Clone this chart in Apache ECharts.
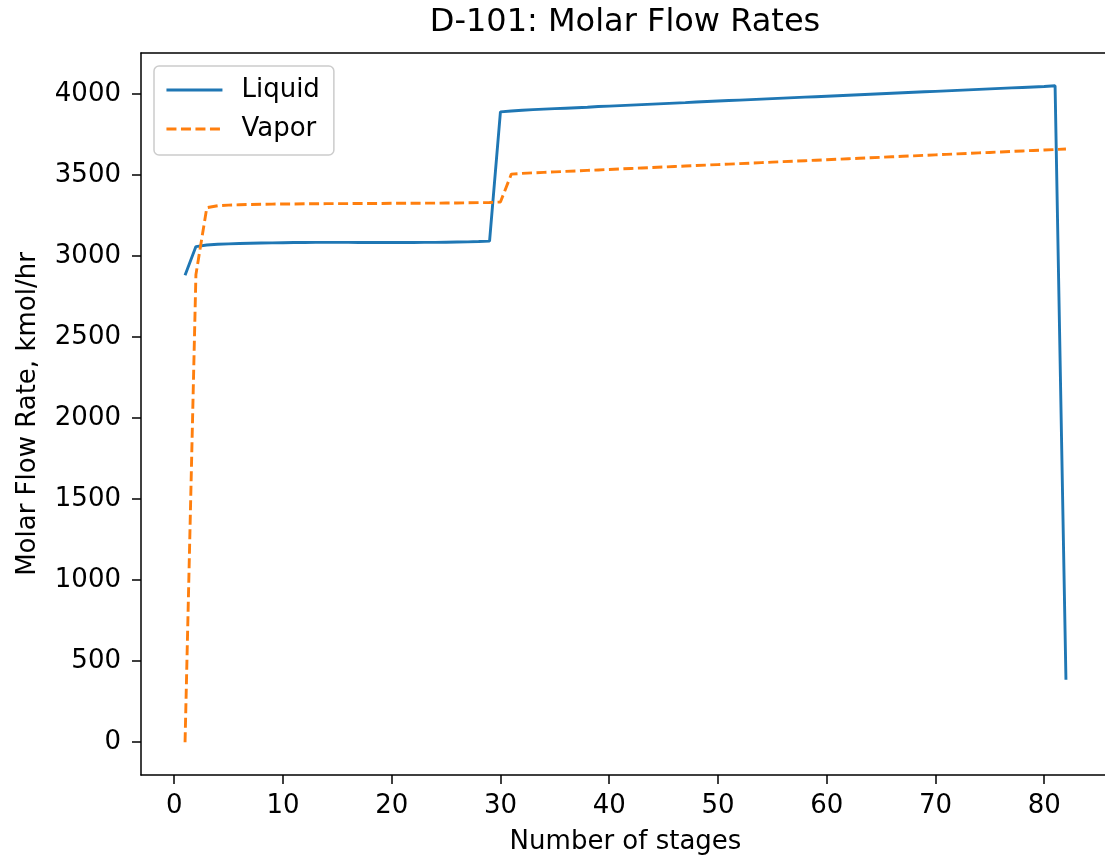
<!DOCTYPE html>
<html>
<head>
<meta charset="utf-8">
<script src="https://cdn.jsdelivr.net/npm/echarts@6/dist/echarts.min.js"></script>
<style>
html,body{margin:0;padding:0;background:#fff;}
#chart{width:1105px;height:859px;}
</style>
</head>
<body>
<div id="chart"></div>
<script>
const titleText = 'D-101: Molar Flow Rates';
const xName = 'Number of stages';
const yName = 'Molar Flow Rate, kmol/hr';
const xTicks = [0, 10, 20, 30, 40, 50, 60, 70, 80];
const yTicks = [0, 500, 1000, 1500, 2000, 2500, 3000, 3500, 4000];
const stages = Array.from({length: 82}, (_, i) => i + 1);
const liquid = [
  2881, 3058, 3068, 3072, 3075, 3077, 3079, 3080, 3081, 3082,
  3083, 3083, 3084, 3084, 3084, 3084, 3083, 3083, 3083, 3083,
  3083, 3083, 3084, 3084, 3085, 3086, 3087, 3089, 3092, 3889,
  3895, 3899, 3903, 3906, 3909, 3912, 3915, 3918, 3922, 3925,
  3928, 3931, 3934, 3937, 3940, 3943, 3946, 3950, 3953, 3956,
  3959, 3962, 3965, 3968, 3971, 3974, 3977, 3980, 3983, 3986,
  3989, 3992, 3995, 3998, 4001, 4004, 4007, 4010, 4013, 4016,
  4019, 4022, 4025, 4028, 4031, 4034, 4037, 4040, 4043, 4046,
  4050, 385
];
const vapor = [
  0, 2885, 3298, 3310, 3314, 3316, 3318, 3319, 3320, 3321,
  3321, 3322, 3322, 3323, 3323, 3323, 3324, 3324, 3324, 3325,
  3325, 3325, 3326, 3326, 3327, 3327, 3328, 3329, 3330, 3333,
  3505, 3510, 3513, 3516, 3519, 3522, 3525, 3528, 3531, 3534,
  3537, 3540, 3543, 3546, 3549, 3552, 3555, 3558, 3561, 3564,
  3567, 3570, 3573, 3576, 3579, 3582, 3585, 3588, 3591, 3594,
  3597, 3600, 3603, 3606, 3609, 3612, 3615, 3618, 3621, 3624,
  3627, 3630, 3633, 3636, 3639, 3642, 3645, 3648, 3651, 3654,
  3657, 3660
];

const FONT = 'DejaVu Sans';
const FS = 26;
const LW = 2.9;
const chart = echarts.init(document.getElementById('chart'), null, {renderer: 'canvas'});
const lineS = {color: '#000', width: 1.5};
const tickS = {color: '#000', width: 1.5};
chart.setOption({
  animation: false,
  backgroundColor: '#fff',
  graphic: [{
    type: 'text', x: 625, y: 7,
    style: {text: titleText, fontFamily: FONT, fontSize: 32, fill: '#000', textAlign: 'center', textVerticalAlign: 'top'}
  }],
  grid: {left: 141, top: 53, width: 969, height: 722, show: false, outerBoundsMode: 'none', containLabel: false},
  legend: {
    orient: 'vertical', left: 154, top: 66,
    padding: [11, 14, 13, 11],
    itemWidth: 56, itemHeight: 14, itemGap: 13,
    backgroundColor: 'rgba(255,255,255,0.8)',
    borderColor: '#cccccc', borderWidth: 1.5, borderRadius: 5,
    itemStyle: {opacity: 0},
    lineStyle: {width: LW},
    textStyle: {fontFamily: FONT, fontSize: FS, color: '#000', padding: [0, 0, 0, 14]},
    data: ['Liquid', 'Vapor']
  },
  xAxis: [{
    type: 'value', min: -3.05, max: 86.05, position: 'bottom',
    name: xName, nameLocation: 'middle', nameGap: 54,
    nameTextStyle: {fontFamily: FONT, fontSize: FS, color: '#000'},
    axisLine: {show: true, onZero: false, lineStyle: lineS},
    axisTick: {show: true, length: 9, lineStyle: tickS, customValues: xTicks},
    axisLabel: {customValues: xTicks, fontFamily: FONT, fontSize: FS, color: '#000', margin: 18, formatter: v => String(v)},
    splitLine: {show: false}
  }, {
    type: 'value', min: -3.05, max: 86.05, position: 'top',
    axisLine: {show: true, onZero: false, lineStyle: lineS},
    axisTick: {show: false}, axisLabel: {show: false}, splitLine: {show: false}
  }],
  yAxis: {
    type: 'value', min: -202.5, max: 4252.5,
    name: yName, nameLocation: 'middle', nameGap: 100,
    nameTextStyle: {fontFamily: FONT, fontSize: FS, color: '#000'},
    axisLine: {show: true, onZero: false, lineStyle: lineS},
    axisTick: {show: true, length: 9, lineStyle: tickS, customValues: yTicks},
    axisLabel: {customValues: yTicks, fontFamily: FONT, fontSize: FS, color: '#000', margin: 20, formatter: v => String(v)},
    splitLine: {show: false}
  },
  series: [
    {
      name: 'Liquid', type: 'line', symbol: 'none', showSymbol: false, xAxisIndex: 0,
      data: stages.map((s, i) => [s, liquid[i]]),
      lineStyle: {color: '#1f77b4', width: LW},
      itemStyle: {color: '#1f77b4'}
    },
    {
      name: 'Vapor', type: 'line', symbol: 'none', showSymbol: false, xAxisIndex: 0,
      data: stages.map((s, i) => [s, vapor[i]]),
      lineStyle: {color: '#ff7f0e', width: LW, type: [10, 4.5]},
      itemStyle: {color: '#ff7f0e'}
    }
  ]
});
</script>
</body>
</html>
